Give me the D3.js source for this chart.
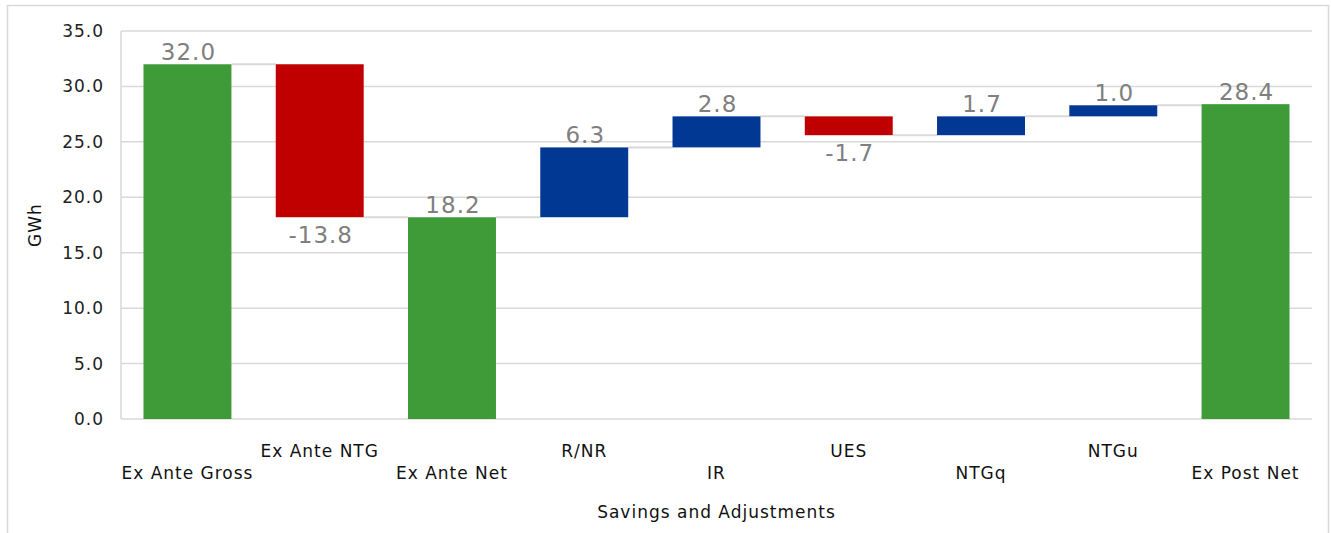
<!DOCTYPE html>
<html><head><meta charset="utf-8">
<script src="https://cdn.jsdelivr.net/npm/d3@7"></script>
<style>
html,body{margin:0;padding:0;background:#fff;}
svg{display:block;font-family:"DejaVu Sans",Verdana,sans-serif;}
</style></head>
<body><svg id="c" width="1331" height="533"></svg>
<script>
const categories = ["Ex Ante Gross","Ex Ante NTG","Ex Ante Net","R/NR","IR","UES","NTGq","NTGu","Ex Post Net"];
const values = [32.0, -13.8, 18.2, 6.3, 2.8, -1.7, 1.7, 1.0, 28.4];
const kinds = ["total","delta","total","delta","delta","delta","delta","delta","total"];
const yTicks = [0,5,10,15,20,25,30,35];
const yTitle = "GWh";
const xTitle = "Savings and Adjustments";

const colors = {total:"#3e9b37", up:"#003893", down:"#c00000"};
const fmt = v => d3.format(".1f")(v).replace("\u2212","-");

// compute waterfall
let running = 0;
const bars = categories.map((c,i)=>{
  let y0,y1,type;
  if(kinds[i]==="total"){ y0=0; y1=values[i]; running=values[i]; type="total"; }
  else { y0=running; y1=running+values[i]; running=y1; type=values[i]>=0?"up":"down"; }
  return {cat:c, v:values[i], y0, y1, type, i};
});

const svg = d3.select("#c");
const m = {left:121, right:1312, top:31, bottom:419};
const x = d3.scaleBand().domain(categories).range([m.left,m.right]).paddingInner(0.335).paddingOuter(0.17);
const y = d3.scaleLinear().domain([0,35]).range([m.bottom,m.top]);

// outer frame
svg.append("rect").attr("x",7.5).attr("y",5.5).attr("width",1321).attr("height",560)
  .attr("fill","none").attr("stroke","#d9d9d9").attr("stroke-width",1.5);

const defs = svg.append("defs");
const f = defs.append("filter").attr("id","sh").attr("x","-5%").attr("y","-200%").attr("width","110%").attr("height","500%");
f.append("feGaussianBlur").attr("stdDeviation",1.6);

// gridlines
svg.append("g").selectAll("line").data(yTicks.filter(t=>t>0)).join("line")
  .attr("x1",m.left).attr("x2",m.right).attr("y1",d=>y(d)).attr("y2",d=>y(d))
  .attr("stroke","#d9d9d9").attr("stroke-width",1.5);
// left border
svg.append("line").attr("x1",m.left).attr("x2",m.left).attr("y1",m.top).attr("y2",m.bottom)
  .attr("stroke","#d9d9d9").attr("stroke-width",1.5);

// axis bottom line with shadow
svg.append("line").attr("x1",m.left-10).attr("x2",m.right-8).attr("y1",y(0)+2).attr("y2",y(0)+2)
  .attr("stroke","#bbbbbb").attr("stroke-width",3).attr("filter","url(#sh)");
svg.append("line").attr("x1",m.left).attr("x2",m.right).attr("y1",y(0)).attr("y2",y(0))
  .attr("stroke","#d9d9d9").attr("stroke-width",1.5);

// y axis labels
const yAxis = d3.axisLeft(y).tickValues(yTicks).tickFormat(fmt).tickSize(0).tickPadding(17);
const ya = svg.append("g").attr("transform",`translate(${m.left},0)`).call(yAxis);
ya.select(".domain").remove();
ya.selectAll("text").attr("font-size",17).attr("letter-spacing",1).attr("fill","#222")
  .attr("font-family","DejaVu Sans, Verdana, sans-serif");

// connectors
const conn = bars.slice(0,-1).map((b,i)=>({x1:x(b.cat)+x.bandwidth(), x2:x(categories[i+1]), level:b.y1}));
svg.append("g").selectAll("line").data(conn).join("line")
  .attr("x1",d=>d.x1).attr("x2",d=>d.x2).attr("y1",d=>y(d.level)).attr("y2",d=>y(d.level))
  .attr("stroke","#d9d9d9").attr("stroke-width",2);

// bars
svg.append("g").selectAll("rect").data(bars).join("rect")
  .attr("x",d=>x(d.cat)).attr("width",x.bandwidth())
  .attr("y",d=>y(Math.max(d.y0,d.y1))).attr("height",d=>Math.abs(y(d.y0)-y(d.y1)))
  .attr("fill",d=>colors[d.type]);

// value labels
svg.append("g").selectAll("text").data(bars).join("text")
  .attr("x",d=>x(d.cat)+x.bandwidth()/2+1)
  .attr("y",d=> d.type==="down" ? y(Math.min(d.y0,d.y1))+26 : y(Math.max(d.y0,d.y1))-4)
  .attr("text-anchor","middle").attr("font-size",23).attr("fill","#7f7f7f")
  .attr("letter-spacing",1)
  .text(d=>fmt(d.v));

// category labels (staggered)
svg.append("g").selectAll("text").data(categories).join("text")
  .attr("x",d=>x(d)+x.bandwidth()/2)
  .attr("y",(d,i)=> i%2===0 ? 479 : 457)
  .attr("text-anchor","middle").attr("font-size",17).attr("letter-spacing",1).attr("fill","#111")
  .text(d=>d);

// axis titles
svg.append("text").attr("x",(m.left+m.right)/2).attr("y",518).attr("text-anchor","middle")
  .attr("font-size",17).attr("letter-spacing",1).attr("fill","#111").text(xTitle);
svg.append("text").attr("transform",`translate(41,${(m.top+m.bottom)/2}) rotate(-90)`)
  .attr("text-anchor","middle").attr("font-size",17).attr("letter-spacing",1).attr("fill","#111").text(yTitle);
</script></body></html>
